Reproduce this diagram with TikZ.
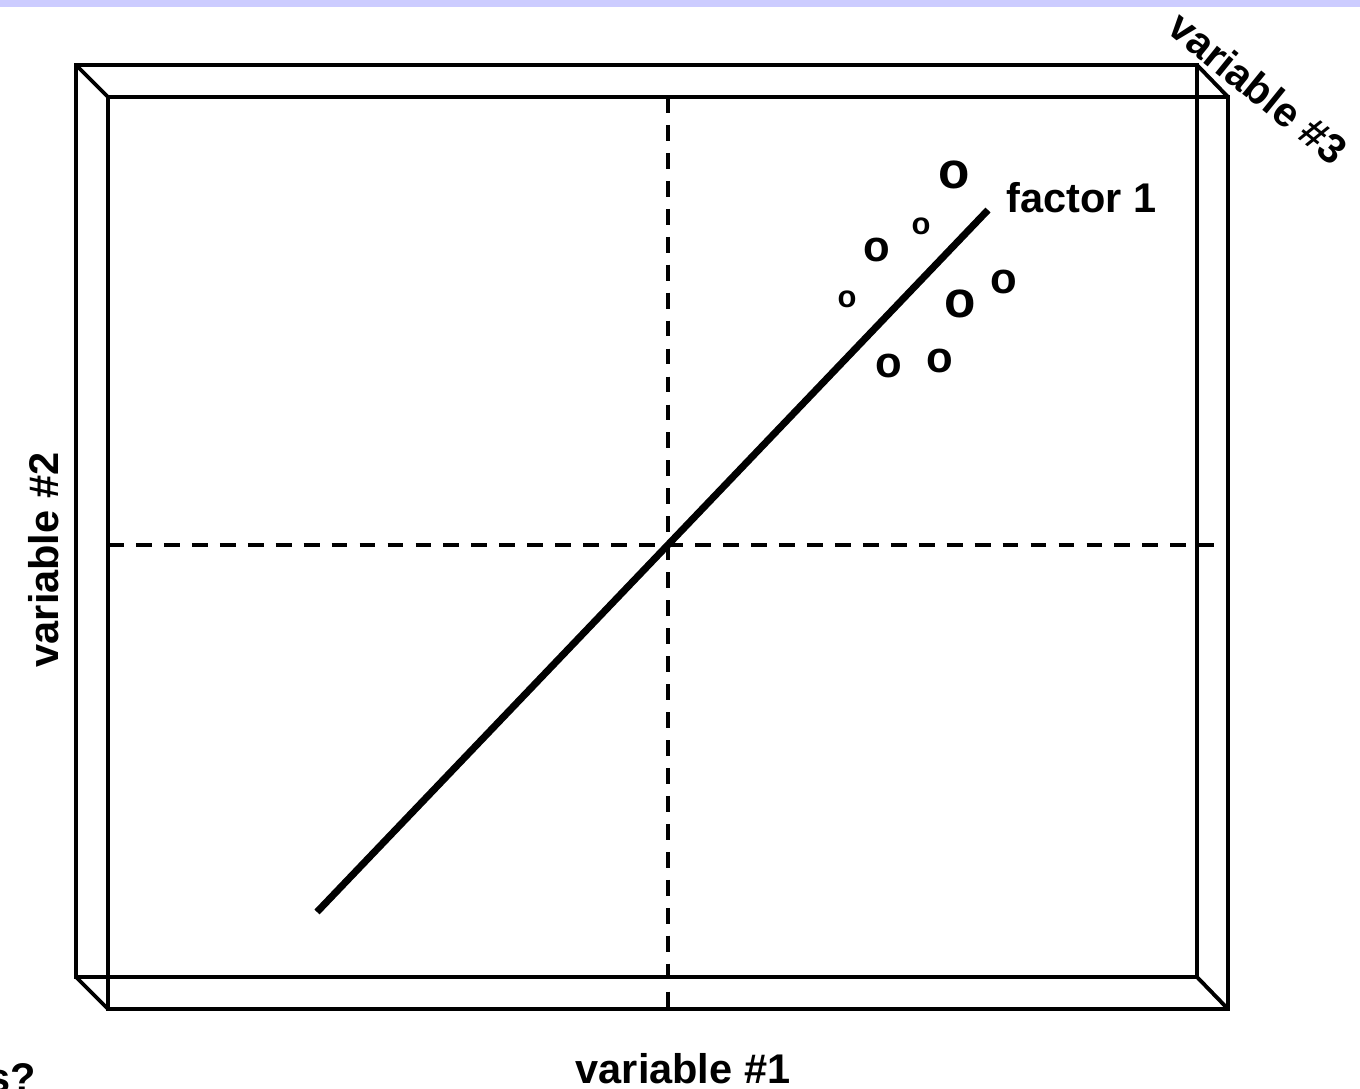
\documentclass[tikz,border=0pt]{standalone}
\usepackage{fontspec}
\setmainfont{Liberation Sans}
\usetikzlibrary{positioning,calc}
\definecolor{bandblue}{HTML}{CCCCFF}

\begin{document}
\begin{tikzpicture}[x=0.01cm, y=-0.01cm, every node/.style={font=\fontsize{11.8}{14}\bfseries\selectfont, inner sep=0pt}, frame/.style={line width=1.1pt, line join=miter}, axisline/.style={line width=0.9pt, dash pattern=on 4.5pt off 3.45pt}, bigo/.style={font=\fontsize{14.6}{16}\bfseries\selectfont}, medo/.style={font=\fontsize{12.4}{14}\bfseries\selectfont}, smallo/.style={font=\fontsize{8.8}{10}\bfseries\selectfont}]

                \useasboundingbox (0,0) rectangle (1360,1089);
                \fill[white] (0,0) rectangle (1360,1089);
                \fill[bandblue] (0,0) rectangle (1360,7);

                % back and front faces of the box
                \coordinate (btl) at (76,65);   \coordinate (btr) at (1197,65);
                \coordinate (bbl) at (76,977);  \coordinate (bbr) at (1197,977);
                \coordinate (ftl) at (108,97);  \coordinate (ftr) at (1228,97);
                \coordinate (fbl) at (108,1009); \coordinate (fbr) at (1228,1009);

                \draw[frame] (btl) -- (btr) -- (bbr) -- (bbl) -- cycle;
                \draw[frame] (ftl) -- (ftr) -- (fbr) -- (fbl) -- cycle;
                \draw[frame] (btl) -- (ftl);
                \draw[frame] (btr) -- (ftr);
                \draw[frame] (bbl) -- (fbl);
                \draw[frame] (bbr) -- (fbr);

                % axes through the centre
                \coordinate (vtop) at (668,97);  \coordinate (vbot) at (668,1009);
                \coordinate (hleft) at (108,545); \coordinate (hright) at (1228,545);
                \draw[axisline] (vtop) -- (vbot);
                \draw[axisline] (hleft) -- (hright);

                \coordinate (fstart) at (317,912);
                \coordinate (fend)   at (988,210);
                \draw[line width=2pt] (fstart) -- (fend);
                \node[anchor=base west] (flabel) at (1006,213) {factor 1};

                \node[bigo]   (o1) at (954,175) {o};
                \node[smallo] (o2) at (921,226) {o};
                \node[medo]   (o3) at (877,250) {o};
                \node[smallo] (o4) at (847,299) {o};
                \node[bigo]   (o5) at (960,304) {o};
                \node[medo]   (o6) at (1004,282) {o};
                \node[medo]   (o7) at (889,366) {o};
                \node[medo]   (o8) at (940,361) {o};

                \node[anchor=base] (var1) at (683,1084) {variable \#1};
                \node[anchor=base, rotate=90] (var2) at (58,560) {variable \#2};
                \node[rotate=-39] (var3) at (1258,88) {variable \#3};
                \node[anchor=base east] (cut) at (37,1093) {s?};
            \end{tikzpicture}
\end{document}
